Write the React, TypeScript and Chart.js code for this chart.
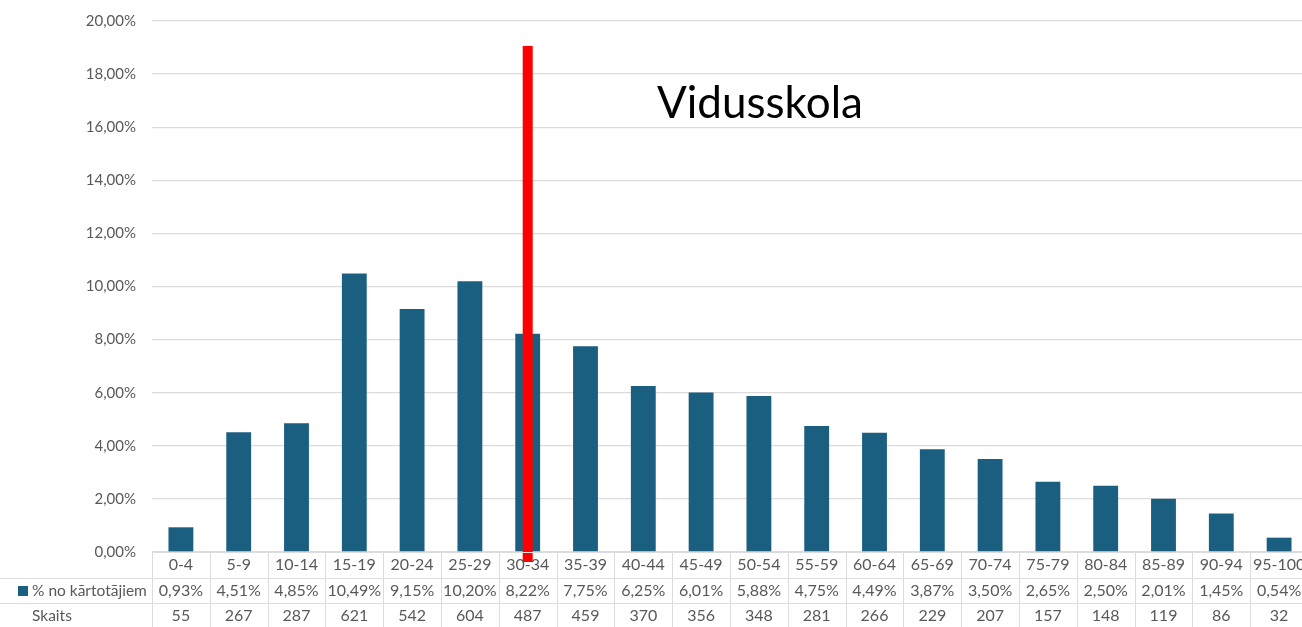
import React, { useEffect, useRef } from "react";
import { Chart, registerables } from "chart.js";

Chart.register(...registerables);

const categories = ["0-4", "5-9", "10-14", "15-19", "20-24", "25-29", "30-34", "35-39", "40-44", "45-49", "50-54", "55-59", "60-64", "65-69", "70-74", "75-79", "80-84", "85-89", "90-94", "95-100"];
const percentValues = [0.93, 4.51, 4.85, 10.49, 9.15, 10.2, 8.22, 7.75, 6.25, 6.01, 5.88, 4.75, 4.49, 3.87, 3.5, 2.65, 2.5, 2.01, 1.45, 0.54];
const counts = [55, 267, 287, 621, 542, 604, 487, 459, 370, 356, 348, 281, 266, 229, 207, 157, 148, 119, 86, 32];
const seriesLabel = "% no kārtotājiem";
const countLabel = "Skaits";
const yMin = 0;
const yMax = 20;
const yStep = 2;
const markerCategory = "30-34";
const markerTop = 19.06;
const markerLabel = "Vidusskola";

const BAR = "#1a5e80";
const TEXT = "#595959";
const LINE = "#dcdcdc";
const FONT = "Lato, 'Open Sans', sans-serif";

const fmtPct = (v: number) => v.toFixed(2).replace(".", ",") + "%";

const tablePlugin = {
  id: "dataTable",
  afterDraw(chart: any) {
    const ctx = chart.ctx;
    const xs = chart.scales.x;
    const ys = chart.scales.y;
    const area = chart.chartArea;
    const n = categories.length;
    const step = (xs.getPixelForValue(1) - xs.getPixelForValue(0));
    const top = area.bottom;
    const r1 = top + 26;
    const r2 = top + 51;
    const bottom = chart.height;
    const rightEdge = xs.getPixelForValue(n - 1) + step / 2;

    // red marker line
    const mi = categories.indexOf(markerCategory);
    const mx = xs.getPixelForValue(mi);
    const myTop = ys.getPixelForValue(markerTop);
    ctx.save();
    ctx.fillStyle = "#ff0000";
    ctx.fillRect(mx - 5, myTop, 10, area.bottom + 10 - myTop);
    ctx.restore();

    ctx.save();
    ctx.strokeStyle = LINE;
    ctx.lineWidth = 1;
    ctx.beginPath();
    ctx.moveTo(area.left, top + 0.5);
    ctx.lineTo(rightEdge, top + 0.5);
    ctx.moveTo(0, r1 + 0.5);
    ctx.lineTo(rightEdge, r1 + 0.5);
    ctx.moveTo(0, r2 + 0.5);
    ctx.lineTo(rightEdge, r2 + 0.5);
    for (let i = 0; i <= n; i++) {
      const x = Math.round(xs.getPixelForValue(i) - step / 2) + 0.5;
      ctx.moveTo(x, top);
      ctx.lineTo(x, bottom);
    }
    ctx.stroke();

    ctx.fillStyle = TEXT;
    ctx.font = `16px ${FONT}`;
    ctx.textAlign = "center";
    ctx.textBaseline = "middle";
    for (let i = 0; i < n; i++) {
      const x = xs.getPixelForValue(i);
      ctx.fillText(categories[i], x, top + 13);
      ctx.fillText(fmtPct(percentValues[i]), x, r1 + 13);
      ctx.fillText(String(counts[i]), x, r2 + 13);
    }
    ctx.textAlign = "left";
    ctx.font = `15.5px ${FONT}`;
    ctx.fillText(seriesLabel, 32, r1 + 13);
    ctx.fillText(countLabel, 32, r2 + 13);
    ctx.fillStyle = BAR;
    ctx.fillRect(18, r1 + 8, 10, 10);

    ctx.fillStyle = "#000000";
    ctx.font = `44px ${FONT}`;
    ctx.textAlign = "left";
    ctx.textBaseline = "alphabetic";
    ctx.fillText(markerLabel, 657, 118);
    ctx.restore();
  },
};

export default function App() {
  const ref = useRef<HTMLCanvasElement | null>(null);
  useEffect(() => {
    if (!ref.current) return;
    const chart = new Chart(ref.current, {
      type: "bar",
      data: {
        labels: categories,
        datasets: [
          {
            label: seriesLabel,
            data: percentValues,
            backgroundColor: BAR,
            barPercentage: 0.43,
            categoryPercentage: 1,
          },
        ],
      },
      options: {
        responsive: false,
        animation: false,
        layout: { padding: { top: 21, right: 2, left: 0, bottom: 0 } },
        plugins: { legend: { display: false }, tooltip: { enabled: false } },
        scales: {
          x: {
            grid: { display: false },
            border: { display: false },
            ticks: { display: false },
            afterFit: (s: any) => {
              s.height = 75;
            },
          },
          y: {
            min: yMin,
            max: yMax,
            grid: { color: LINE, drawTicks: false, lineWidth: 1.3 },
            border: { display: false },
            ticks: {
              stepSize: yStep,
              padding: 16,
              color: TEXT,
              font: { family: FONT, size: 15 },
              callback: (v: any) => fmtPct(Number(v)),
            },
            afterFit: (s: any) => {
              s.width = 152;
              s.paddingTop = 0;
              s.paddingBottom = 0;
            },
          },
        },
      },
      plugins: [tablePlugin],
    });
    return () => chart.destroy();
  }, []);
  return (
    <div style={{ position: "fixed", left: 0, top: 0, width: 1302, height: 627, overflow: "hidden", background: "#fff" }}>
      <canvas ref={ref} width={1310} height={627} style={{ display: "block" }} />
    </div>
  );
}
